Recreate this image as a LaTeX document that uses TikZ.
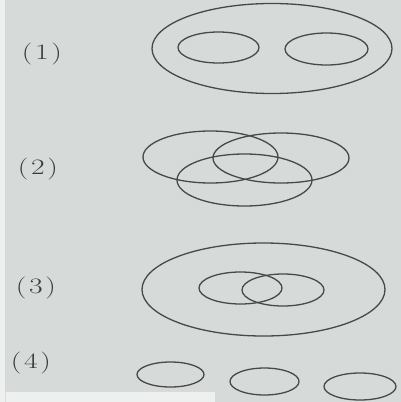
\documentclass[tikz,border=0pt]{standalone}
\usepackage{graphicx}
\definecolor{paper}{RGB}{214,219,218}
\definecolor{strip}{RGB}{238,240,240}
\definecolor{pencil}{RGB}{72,72,72}
\begin{document}
\begin{tikzpicture}[x=1pt,y=-1pt,
  ring/.style={draw=pencil,line width=1.3pt},
  lbl/.style={text=pencil!80!black,inner sep=0pt,font=\fontsize{22}{22}\selectfont}]
\useasboundingbox (0,0) rectangle (401,402);
\fill[paper] (0,0) rectangle (401,402);
\fill[strip] (0,0) rectangle (5,402);
\fill[strip] (6,392) rectangle (215,402);
% labels
\node[lbl] (l1) at (42,54) {\scalebox{1.35}[1]{(\kern2pt1\kern2pt)}};
\node[lbl] (l2) at (38,169) {\scalebox{1.35}[1]{(\kern2pt2\kern2pt)}};
\node[lbl] (l3) at (36,288) {\scalebox{1.35}[1]{(\kern2pt3\kern2pt)}};
\node[lbl] (l4) at (31,363) {\scalebox{1.35}[1]{(\kern2pt4\kern2pt)}};
% (1)
\draw[ring] (272,48.5) ellipse [x radius=120pt, y radius=45pt];
\draw[ring] (218.5,47.5) ellipse [x radius=40.5pt, y radius=15.5pt];
\draw[ring] (326.5,49) ellipse [x radius=41.5pt, y radius=16pt];
% (2)
\draw[ring] (210.5,157) ellipse [x radius=67.5pt, y radius=26pt];
\draw[ring] (281,158) ellipse [x radius=68pt, y radius=25pt];
\draw[ring] (244.5,180) ellipse [x radius=67.5pt, y radius=26pt];
% (3)
\draw[ring] (263.5,289.5) ellipse [x radius=121.5pt, y radius=46.5pt];
\draw[ring] (240.5,288) ellipse [x radius=41.5pt, y radius=16pt];
\draw[ring] (283,290) ellipse [x radius=41pt, y radius=16pt];
% (4)
\draw[ring] (170.5,374.5) ellipse [x radius=33.5pt, y radius=12.5pt];
\draw[ring] (264.5,381.5) ellipse [x radius=34.5pt, y radius=13.5pt];
\draw[ring] (360,386.5) ellipse [x radius=36pt, y radius=13.5pt];
\end{tikzpicture}
\end{document}
